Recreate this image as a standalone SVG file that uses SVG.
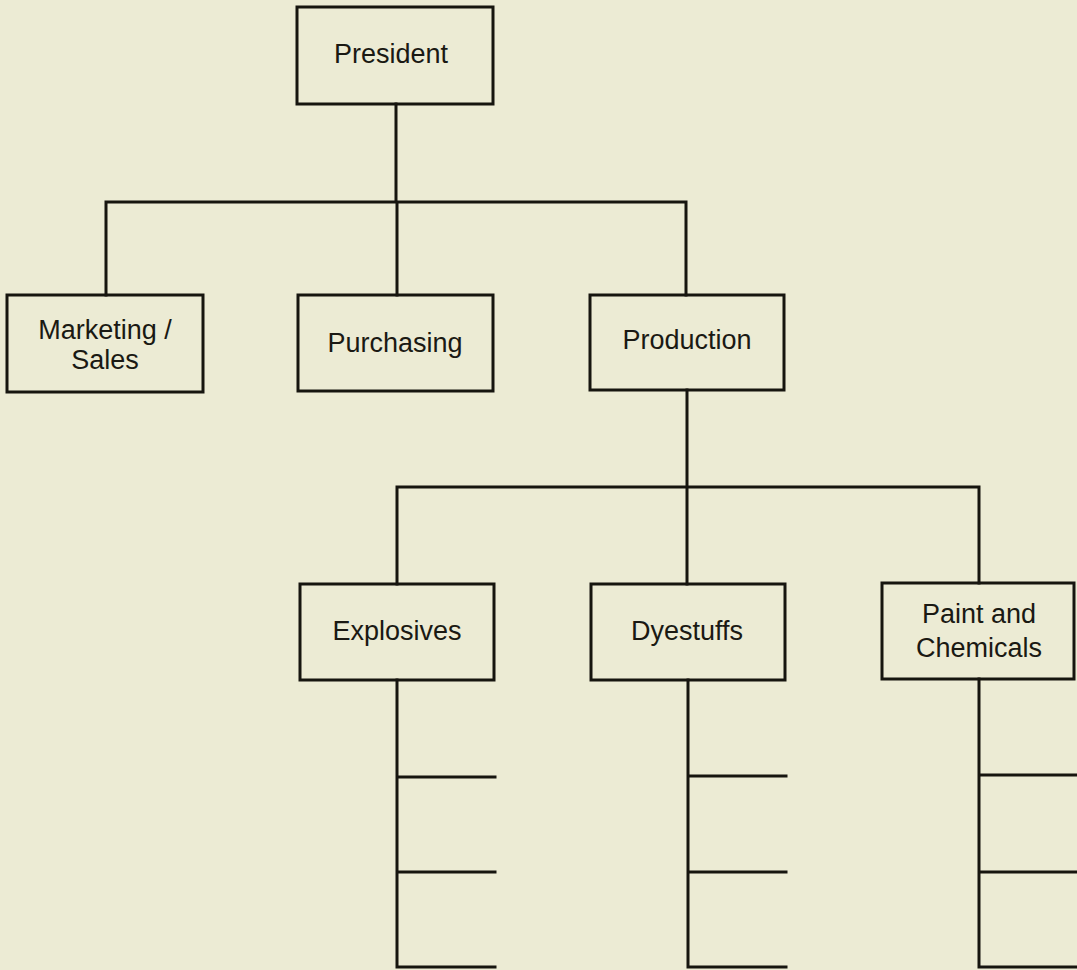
<svg xmlns="http://www.w3.org/2000/svg" width="1077" height="970" viewBox="0 0 1077 970">
<style>
.box{fill:none;stroke:#16150f;stroke-width:3}
.ln{fill:none;stroke:#16150f;stroke-width:3;stroke-linecap:square}
text{font-family:"Liberation Sans",Arial,sans-serif;font-size:27px;fill:#1a1913;text-anchor:middle}
</style>
<rect width="1077" height="970" fill="#ecebd4"/>
<g id="connectors">
<path class="ln" d="M396 104V202M106 295V202H686V295M397 202V295"/>
<path class="ln" d="M687 390V487M397 584V487H979V583M687 487V584"/>
<path class="ln" d="M397 680V967M397 777H495M397 872H495M397 967H495"/>
<path class="ln" d="M688 680V967M688 776H786M688 872H786M688 967H786"/>
<path class="ln" d="M979 679V967M979 775H1077M979 872H1077M979 967H1077"/>
</g>
<g id="president"><rect class="box" x="297" y="7" width="196" height="97"/><text x="391" y="63">President</text></g>
<g id="marketing"><rect class="box" x="7" y="295" width="196" height="97"/><text x="105" y="339">Marketing /</text><text x="105" y="369">Sales</text></g>
<g id="purchasing"><rect class="box" x="298" y="295" width="195" height="96"/><text x="395" y="352">Purchasing</text></g>
<g id="production"><rect class="box" x="590" y="295" width="194" height="95"/><text x="687" y="349">Production</text></g>
<g id="explosives"><rect class="box" x="300" y="584" width="194" height="96"/><text x="397" y="640">Explosives</text></g>
<g id="dyestuffs"><rect class="box" x="591" y="584" width="194" height="96"/><text x="687" y="640">Dyestuffs</text></g>
<g id="paint"><rect class="box" x="882" y="583" width="192" height="96"/><text x="979" y="623">Paint and</text><text x="979" y="657">Chemicals</text></g>
</svg>
